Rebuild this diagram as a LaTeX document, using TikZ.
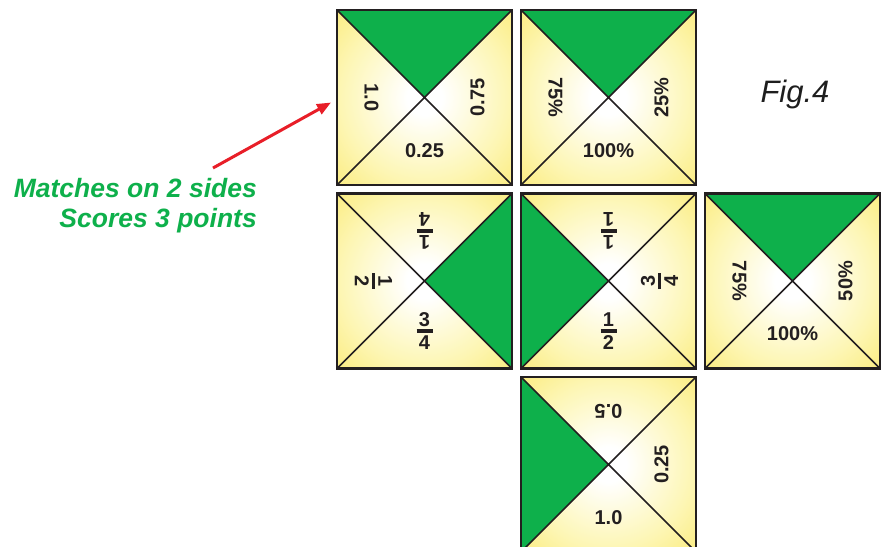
\documentclass[tikz,border=0pt]{standalone}
\usepackage{fontspec}
\setmainfont{Liberation Sans}
\usepackage{xcolor}
\usepackage{tikz}
\usetikzlibrary{arrows.meta, positioning, calc}

\definecolor{tilegreen}{RGB}{14,176,75}
\definecolor{tileyel}{RGB}{251,236,128}
\definecolor{tilelite}{RGB}{253,246,180}
\definecolor{rimgray}{RGB}{35,31,32}
\definecolor{arrowred}{RGB}{232,30,40}
\definecolor{figgray}{RGB}{30,30,30}

\pgfdeclareradialshading{tileglow}{\pgfpoint{0bp}{0bp}}{color(0bp)=(white); color(5bp)=(white); color(24bp)=(tilelite); color(36bp)=(tileyel); color(50bp)=(tileyel)}

\newcommand{\frc}[2]{\shortstack{#1\\\rule{16pt}{3.5pt}\\#2}}

\begin{document}
\begin{tikzpicture}[
    x=1pt, y=-1pt,
    tile/.style={rectangle, minimum size=175pt, inner sep=0pt, outer sep=0pt, shading=tileglow},
    leaf/.style={fill=tilegreen},
    diag/.style={draw=rimgray, line width=1.7pt},
    rim/.style={draw=rimgray, line width=2.7pt},
    lab/.style={font=\bfseries\fontsize{20}{23}\selectfont, text=rimgray, inner sep=0pt},
    note/.style={font=\bfseries\itshape\fontsize{26.5}{30}\selectfont, text=tilegreen, align=right, inner sep=0pt},
    e/.style={-{Triangle[length=14pt, width=11pt]}, line width=3pt, draw=arrowred},
]
    \clip (0,0) rectangle (882,546);
    % tiles
    \node[tile] (t1) at (424.5,97.5) {};
    \node[tile] (t2) at (608.5,97.5) {};
    \node[tile] (t3) at (424.5,281) {};
    \node[tile] (t4) at (608.5,281) {};
    \node[tile] (t5) at (792.5,281) {};
    \node[tile] (t6) at (608.5,464.5) {};
    % green quarters
    \fill[leaf] (t1.north west) -- (t1.north east) -- (t1.center) -- cycle;
    \fill[leaf] (t2.north west) -- (t2.north east) -- (t2.center) -- cycle;
    \fill[leaf] (t3.north east) -- (t3.south east) -- (t3.center) -- cycle;
    \fill[leaf] (t4.north west) -- (t4.south west) -- (t4.center) -- cycle;
    \fill[leaf] (t5.north west) -- (t5.north east) -- (t5.center) -- cycle;
    \fill[leaf] (t6.north west) -- (t6.south west) -- (t6.center) -- cycle;
    % diagonals and rims
    \draw[diag] (t1.north west) -- (t1.south east) (t1.north east) -- (t1.south west);
    \draw[diag] (t2.north west) -- (t2.south east) (t2.north east) -- (t2.south west);
    \draw[diag] (t3.north west) -- (t3.south east) (t3.north east) -- (t3.south west);
    \draw[diag] (t4.north west) -- (t4.south east) (t4.north east) -- (t4.south west);
    \draw[diag] (t5.north west) -- (t5.south east) (t5.north east) -- (t5.south west);
    \draw[diag] (t6.north west) -- (t6.south east) (t6.north east) -- (t6.south west);
    \draw[rim] (t1.north west) rectangle (t1.south east);
    \draw[rim] (t2.north west) rectangle (t2.south east);
    \draw[rim] (t3.north west) rectangle (t3.south east);
    \draw[rim] (t4.north west) rectangle (t4.south east);
    \draw[rim] (t5.north west) rectangle (t5.south east);
    \draw[rim] (t6.north west) rectangle (t6.south east);
    % labels
    \node[lab, rotate=-90] (t1w) at ([xshift=-53pt]t1.center) {1.0};
    \node[lab, rotate=90] (t1e) at ([xshift=53pt]t1.center) {0.75};
    \node[lab] (t1s) at ([yshift=-53pt]t1.center) {0.25};
    \node[lab, rotate=-90] (t2w) at ([xshift=-53pt]t2.center) {75\%};
    \node[lab, rotate=90] (t2e) at ([xshift=53pt]t2.center) {25\%};
    \node[lab] (t2s) at ([yshift=-53pt]t2.center) {100\%};
    \node[lab, rotate=180] (t3n) at ([yshift=50pt]t3.center) {\frc{1}{4}};
    \node[lab, rotate=-90] (t3w) at ([xshift=-51pt]t3.center) {\frc{1}{2}};
    \node[lab] (t3s) at ([yshift=-50pt]t3.center) {\frc{3}{4}};
    \node[lab, rotate=180] (t4n) at ([yshift=50pt]t4.center) {\frc{1}{1}};
    \node[lab, rotate=90] (t4e) at ([xshift=51pt]t4.center) {\frc{3}{4}};
    \node[lab] (t4s) at ([yshift=-50pt]t4.center) {\frc{1}{2}};
    \node[lab, rotate=-90] (t5w) at ([xshift=-53pt]t5.center) {75\%};
    \node[lab, rotate=90] (t5e) at ([xshift=53pt]t5.center) {50\%};
    \node[lab] (t5s) at ([yshift=-53pt]t5.center) {100\%};
    \node[lab, rotate=180] (t6n) at ([yshift=53pt]t6.center) {0.5};
    \node[lab, rotate=90] (t6e) at ([xshift=53pt]t6.center) {0.25};
    \node[lab] (t6s) at ([yshift=-53pt]t6.center) {1.0};
    % caption and note
    \node[font=\itshape\fontsize{31}{36}\selectfont, text=figgray, anchor=base] (fig) at (795,102) {Fig.4};
    \node[note, anchor=north east] (note) at (257,178) {Matches on 2 sides\\Scores 3 points};
    \draw[e] ([xshift=-44pt, yshift=10pt]note.north east) -- ([xshift=-6pt, yshift=-5pt]t1.west);
\end{tikzpicture}
\end{document}
